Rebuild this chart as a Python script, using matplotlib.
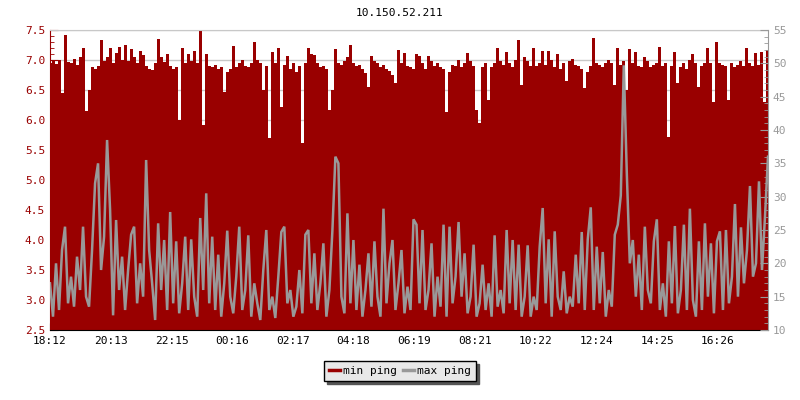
import matplotlib
matplotlib.use("Agg")
import matplotlib.pyplot as plt
import numpy as np
from matplotlib.ticker import MultipleLocator

# ping samples, one every 6 minutes starting at 18:12
min_ping = [
    6.95, 6.98, 6.93, 7.0, 6.45, 7.42, 6.97, 6.95, 7.02, 6.92, 7.05, 7.2, 6.15, 6.5, 6.88, 6.85, 6.9, 7.33, 6.98, 7.05,
    7.2, 6.95, 7.12, 7.22, 7.0, 7.25, 6.98, 7.18, 7.05, 6.95, 7.15, 7.08, 6.9, 6.85, 6.83, 6.95, 7.35, 7.05, 6.97, 7.1,
    6.9, 6.85, 6.88, 6.0, 7.2, 6.95, 7.1, 6.98, 7.15, 6.95, 7.48, 5.92, 7.1, 6.9, 6.88, 6.92, 6.85, 6.88, 6.47, 6.8,
    6.85, 7.23, 6.88, 6.95, 7.0, 6.9, 6.88, 6.95, 7.3, 7.0, 6.95, 6.5, 6.9, 5.7, 7.13, 6.95, 7.2, 6.22, 6.92, 7.07,
    6.85, 6.95, 6.8, 6.9, 5.62, 6.95, 7.2, 7.1, 7.08, 6.95, 6.88, 6.9, 6.85, 6.17, 6.5, 7.18, 6.95, 6.92, 6.98, 7.05,
    7.25, 6.95, 6.9, 6.92, 6.85, 6.78, 6.55, 7.07, 6.98, 6.95, 6.88, 6.92, 6.85, 6.82, 6.75, 6.62, 7.17, 6.95, 7.12, 6.9,
    6.88, 6.85, 7.1, 7.07, 6.95, 6.85, 7.07, 6.98, 6.9, 6.95, 6.88, 6.85, 6.13, 6.8, 6.92, 6.9, 7.0, 6.88, 6.95, 7.12,
    6.98, 6.9, 6.17, 5.95, 6.88, 6.95, 6.33, 6.88, 6.95, 7.2, 6.98, 6.92, 7.13, 6.95, 6.88, 7.0, 7.33, 6.58, 7.05, 6.98,
    6.9, 7.2, 6.9, 6.95, 7.15, 6.92, 7.15, 7.0, 6.88, 7.1, 6.85, 6.95, 6.65, 6.98, 7.02, 6.92, 6.9, 6.85, 6.53, 6.8,
    6.9, 7.37, 6.95, 6.92, 6.88, 6.95, 7.0, 6.95, 6.58, 7.2, 6.92, 6.98, 6.5, 7.18, 6.95, 7.13, 6.9, 6.88, 7.05, 6.98,
    6.88, 6.92, 6.95, 7.22, 6.9, 6.95, 5.72, 6.9, 7.13, 6.62, 6.88, 6.95, 6.85, 7.0, 7.1, 6.95, 6.55, 6.9, 6.95, 7.2,
    6.95, 6.3, 7.3, 6.95, 6.92, 6.9, 6.33, 6.95, 6.88, 6.92, 6.98, 6.9, 7.2, 6.95, 6.9, 7.12, 6.92, 7.13, 6.3, 7.17,
]
max_ping = [
    17, 12, 20, 13, 22, 25.5, 14, 18, 13.5, 21, 16, 25.5, 15, 13.5, 22, 32, 35, 19, 24, 38.5,
    28, 12.2, 26.5, 16, 21, 13, 19, 24.3, 25.5, 14, 20, 15, 35.5, 22, 17, 11.5, 26, 16, 23.5, 13,
    27.7, 14, 23.3, 12.5, 17, 24, 13, 23.6, 15, 12, 26.8, 16, 30.5, 14, 24, 13, 21.3, 12, 17, 24.9,
    15, 12.5, 18, 25.5, 13, 16, 24.2, 12, 17, 14, 11.5, 19, 25, 13, 15, 11.8, 18, 24.7, 25.5, 14,
    16, 12, 13.5, 19, 12.5, 24.3, 25, 14, 21.5, 13, 17, 23, 12, 16, 24.9, 36, 35, 15, 12.5, 27.5,
    14, 23.5, 13, 19.8, 12, 16, 21.5, 13.5, 23.3, 15, 12, 28.2, 14, 20, 23.5, 13, 17, 22, 12.5, 16.5,
    13, 26.6, 25.8, 14, 25, 13, 16, 23, 12, 18, 13.5, 25.8, 12, 25.5, 14, 18, 26.2, 15, 21.5, 12.5,
    15, 22.8, 12, 14, 19.8, 13, 17, 12, 24.2, 13.5, 16, 12.5, 25, 14, 23.5, 13, 22.8, 12, 15, 22.7,
    12, 15, 13, 22.5, 28.3, 14, 23.6, 12, 24.8, 15, 13, 18.8, 12.5, 15, 13.5, 21.3, 14, 24.7, 13, 23.6,
    28.4, 13, 22.5, 14, 21.7, 12, 16, 13.5, 24.3, 25.8, 30.2, 49.7, 33.5, 20, 23.5, 15, 21.3, 13, 25.5, 16,
    14, 23.3, 26.6, 13, 17, 12, 23.3, 14, 25.6, 12.5, 16, 25.8, 13, 28.2, 14.5, 12, 23.3, 13, 26, 15,
    23, 12.5, 23.3, 24.8, 13, 25, 14, 18, 28.9, 15, 25.4, 17, 22, 31.6, 18, 20, 32.3, 19, 27, 36,
]
tick_labels = ["18:12", "20:13", "22:15", "00:16", "02:17", "04:18",
               "06:19", "08:21", "10:22", "12:24", "14:25", "16:26"]
step_min = 6

t = np.arange(len(min_ping)) * step_min

def minutes_after_start(lbl):
    h, m = map(int, lbl.split(":"))
    d = (h * 60 + m) - (18 * 60 + 12)
    return d % 1440

tick_pos = [minutes_after_start(l) for l in tick_labels]

red = "#990000"
grey = "#999999"
mono = "DejaVu Sans Mono"

fig = plt.figure(figsize=(8, 4), dpi=100)
ax = fig.add_axes([50 / 800, 70 / 400, 718 / 800, 300 / 400])
ax2 = ax.twinx()

ax.fill_between(t, 2.5, min_ping, step="mid", color=red, lw=0, zorder=2)
ax2.plot(t, max_ping, color=grey, lw=1.8, solid_joinstyle="miter")

ax.set_xlim(0, 1434)
ax.set_ylim(2.5, 7.5)
ax2.set_ylim(10, 55)

ax.yaxis.set_major_locator(MultipleLocator(0.5))
ax.yaxis.set_minor_locator(MultipleLocator(0.1))
ax.yaxis.set_major_formatter(matplotlib.ticker.FormatStrFormatter("%.1f"))
ax2.yaxis.set_major_locator(MultipleLocator(5))
ax2.yaxis.set_minor_locator(MultipleLocator(1))

ax.set_xticks(tick_pos)
ax.set_xticklabels(tick_labels)

ax.grid(axis="y", color="#c8c8c8", lw=1, zorder=0)
ax.set_axisbelow(True)

ax.tick_params(axis="x", direction="in", length=5, colors="black", labelsize=8, pad=4)
ax.tick_params(axis="y", which="major", direction="in", length=6, colors=red, labelsize=8)
ax.tick_params(axis="y", which="minor", direction="in", length=3, colors=red)
ax2.tick_params(axis="y", which="major", direction="in", length=6, colors=grey, labelsize=8)
ax2.tick_params(axis="y", which="minor", direction="in", length=3, colors=grey)

for lab in ax.get_xticklabels() + ax.get_yticklabels() + ax2.get_yticklabels():
    lab.set_family(mono)

ax.spines["left"].set_color(red)
ax.spines["bottom"].set_color("black")
ax.spines["top"].set_color("#c8c8c8")
ax.spines["right"].set_visible(False)
ax2.spines["left"].set_visible(False)
ax2.spines["top"].set_visible(False)
ax2.spines["bottom"].set_visible(False)
ax2.spines["right"].set_color(grey)

fig.text(0.5, 1 - 13 / 400, "10.150.52.211", ha="center", va="center",
         fontsize=8, family=mono)

h1 = plt.Line2D([], [], color=red, lw=2.5)
h2 = plt.Line2D([], [], color=grey, lw=2.5)
leg = fig.legend([h1, h2], ["min ping", "max ping"], loc="center",
                 bbox_to_anchor=(0.5, 1 - 371 / 400), ncol=2, fancybox=False,
                 shadow={"color": "#555555", "alpha": 1}, frameon=True,
                 prop={"family": mono, "size": 8}, handlelength=1.0,
                 handletextpad=0.3, columnspacing=0.5, borderpad=0.45)
leg.get_frame().set_edgecolor("black")
leg.get_frame().set_facecolor("#e8e8e8")
leg.get_frame().set_linewidth(1)
leg.get_frame().set_alpha(1)

fig.savefig("out.png", dpi=100)
